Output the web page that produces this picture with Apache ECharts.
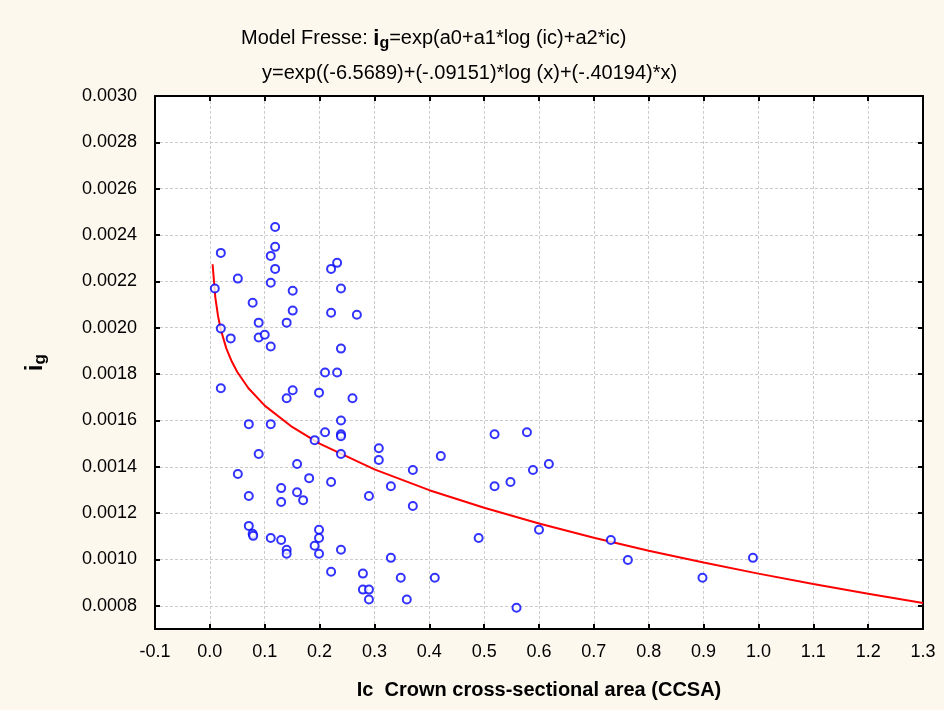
<!DOCTYPE html>
<html>
<head>
<meta charset="utf-8">
<script src="https://cdn.jsdelivr.net/npm/echarts@6/dist/echarts.min.js"></script>
<style>
html,body{margin:0;padding:0;background:#FDF8EE;}
#chart{width:944px;height:710px;}
</style>
</head>
<body>
<div id="chart"></div>
<script>
// Observed data: crown cross-sectional area (x) vs ig (y)
const ccsa = [
  0.009, 0.020, 0.020, 0.020, 0.038, 0.051, 0.051, 0.071, 0.071, 0.071,
  0.078, 0.078, 0.079, 0.089, 0.089, 0.089, 0.100, 0.111, 0.111, 0.111,
  0.119, 0.119, 0.119, 0.111, 0.111, 0.130, 0.130, 0.130, 0.140, 0.140,
  0.140, 0.140, 0.151, 0.151, 0.151, 0.159, 0.159, 0.170, 0.181, 0.191,
  0.191, 0.199, 0.199, 0.199, 0.199, 0.210, 0.210, 0.221, 0.221, 0.221,
  0.221, 0.232, 0.232, 0.239, 0.239, 0.239, 0.239, 0.239, 0.239, 0.239,
  0.260, 0.268, 0.279, 0.279, 0.290, 0.290, 0.290, 0.308, 0.308, 0.330,
  0.330, 0.348, 0.359, 0.370, 0.370, 0.410, 0.421, 0.490, 0.519, 0.519,
  0.548, 0.559, 0.578, 0.589, 0.600, 0.618, 0.731, 0.762, 0.898, 0.990
];
const ig = [
  0.002169, 0.002323, 0.001997, 0.001739, 0.001954, 0.002212, 0.001369, 0.001584, 0.001274, 0.001145,
  0.002108, 0.001111, 0.001102, 0.002022, 0.001958, 0.001455, 0.001970, 0.001919, 0.002194, 0.002310,
  0.002435, 0.002349, 0.002254, 0.001584, 0.001093, 0.001308, 0.001248, 0.001084, 0.002022, 0.001696,
  0.001042, 0.001025, 0.002160, 0.002074, 0.001730, 0.001412, 0.001290, 0.001256, 0.001351, 0.001515,
  0.001059, 0.001720, 0.001128, 0.001093, 0.001025, 0.001807, 0.001549, 0.002254, 0.002065, 0.001334,
  0.000947, 0.002280, 0.001807, 0.002169, 0.001910, 0.001600, 0.001540, 0.001532, 0.001455, 0.001042,
  0.001696, 0.002056, 0.000939, 0.000870, 0.000870, 0.000827, 0.001274, 0.001480, 0.001429, 0.001316,
  0.001007, 0.000921, 0.000827, 0.001386, 0.001231, 0.000921, 0.001446, 0.001093, 0.001540, 0.001316,
  0.001334, 0.000792, 0.001549, 0.001386, 0.001128, 0.001412, 0.001084, 0.000998, 0.000921, 0.001007
];
// Fitted curve (Fresse model) sampled points
const fitX = [0.005, 0.01, 0.015, 0.02, 0.03, 0.04, 0.05, 0.07, 0.1, 0.15, 0.2, 0.3, 0.4, 0.5, 0.6, 0.7, 0.8, 0.9, 1.0, 1.1, 1.2, 1.3];
const fitY = [0.002274, 0.002130, 0.002049, 0.001991, 0.001911, 0.001854, 0.001809, 0.001740, 0.001664, 0.001572, 0.001500, 0.001389, 0.001299, 0.001223, 0.001155, 0.001094, 0.001038, 0.000987, 0.000939, 0.000894, 0.000852, 0.000812];
// Tick labels
const yTicks = [0.0008, 0.0010, 0.0012, 0.0014, 0.0016, 0.0018, 0.0020, 0.0022, 0.0024, 0.0026, 0.0028, 0.0030];

const FONT = 'Arial, "Liberation Sans", sans-serif';
const chart = echarts.init(document.getElementById('chart'), null, {renderer: 'canvas'});

const scatterData = ccsa.map((x, i) => [x, ig[i]]);
const fitData = fitX.map((x, i) => [x, fitY[i]]);

const frameLine = {show: true, onZero: false, lineStyle: {color: '#000', width: 2}};
const innerTick = {show: true, inside: true, length: 5, lineStyle: {color: '#000', width: 2}};
const dashGrid = {show: true, lineStyle: {color: '#cccccc', type: [3, 2], width: 1}};

chart.setOption({
  backgroundColor: '#FDF8EE',
  animation: false,
  title: [
    {
      text: 'Model Fresse: {b|i}{s|g}=exp(a0+a1*log (ic)+a2*ic)',
      left: 236, top: 20,
      textStyle: {
        fontFamily: FONT, fontSize: 20, fontWeight: 'normal', color: '#000',
        rich: {
          b: {fontFamily: FONT, fontSize: 22, fontWeight: 'bold', color: '#000'},
          s: {fontFamily: FONT, fontSize: 16, fontWeight: 'bold', color: '#000', padding: [11, 0, 0, 0]}
        }
      }
    },
    {
      text: 'y=exp((-6.5689)+(-.09151)*log (x)+(-.40194)*x)',
      left: 257, top: 58,
      textStyle: {fontFamily: FONT, fontSize: 20, fontWeight: 'normal', color: '#000'}
    }
  ],
  grid: {left: 155, right: 21, top: 96, bottom: 81, containLabel: false,
         show: true, backgroundColor: '#fff', borderWidth: 0},
  xAxis: [
    {
      type: 'value', min: -0.1, max: 1.3, interval: 0.1, position: 'bottom',
      axisLine: frameLine, axisTick: innerTick, splitLine: dashGrid,
      axisLabel: {color: '#000', fontFamily: FONT, fontSize: 18, margin: 14,
                  formatter: v => v.toFixed(1)},
      name: 'Ic  Crown cross-sectional area (CCSA)', nameLocation: 'middle', nameGap: 51,
      nameTextStyle: {color: '#000', fontFamily: FONT, fontSize: 20, fontWeight: 'bold'}
    },
    {
      type: 'value', min: -0.1, max: 1.3, interval: 0.1, position: 'top',
      axisLine: frameLine, axisTick: innerTick, splitLine: {show: false},
      axisLabel: {show: false}
    }
  ],
  yAxis: [
    {
      type: 'value', min: 0.0007, max: 0.0030, position: 'left',
      axisLine: frameLine,
      axisTick: Object.assign({}, innerTick, {customValues: yTicks}),
      splitLine: dashGrid,
      axisLabel: {color: '#000', fontFamily: FONT, fontSize: 18, margin: 18,
                  customValues: yTicks, formatter: v => v.toFixed(4)},
      name: '{i|i}{g|g}', nameLocation: 'middle', nameGap: 106, nameRotate: 90,
      nameTextStyle: {
        rich: {
          i: {fontFamily: FONT, fontSize: 23, fontWeight: 'bold', color: '#000'},
          g: {fontFamily: FONT, fontSize: 17, fontWeight: 'bold', color: '#000', padding: [10, 0, 0, 0]}
        }
      }
    },
    {
      type: 'value', min: 0.0007, max: 0.0030, position: 'right',
      axisLine: frameLine,
      axisTick: Object.assign({}, innerTick, {customValues: yTicks}),
      splitLine: {show: false}, axisLabel: {show: false}
    }
  ],
  series: [
    {
      type: 'line', data: fitData, xAxisIndex: 0, yAxisIndex: 0,
      showSymbol: false, smooth: false, z: 2,
      lineStyle: {color: '#FF0000', width: 2}
    },
    {
      type: 'scatter', data: scatterData, xAxisIndex: 0, yAxisIndex: 0,
      symbol: 'emptyCircle', symbolSize: 8, z: 3,
      itemStyle: {color: '#0000FF', borderColor: '#0000FF', borderWidth: 2}
    }
  ]
});
</script>
</body>
</html>
